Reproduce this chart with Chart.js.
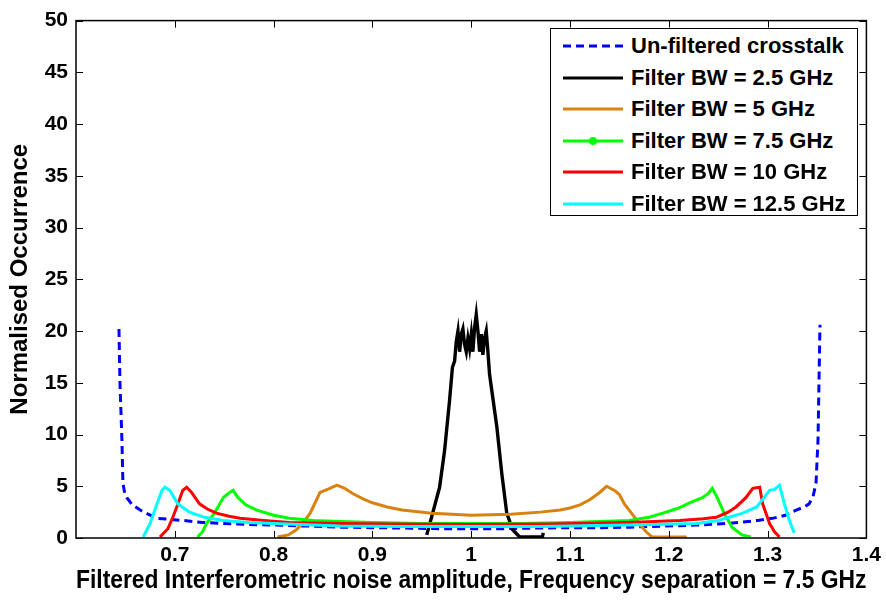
<!DOCTYPE html>
<html>
<head>
<meta charset="utf-8">
<script src="https://cdn.jsdelivr.net/npm/chart.js@4.4.0/dist/chart.umd.min.js"></script>
<style>
    body { margin: 0; background: #fff; }
    .wrap { position: relative; width: 886px; height: 600px; }
    .legend {
        position: absolute; left: 550px; top: 28px; width: 306px; height: 186px;
        border: 1.5px solid #000; background: #fff;
        font: bold 22px "Liberation Sans", Arial, sans-serif; color: #000;
    }
    .legend .row { position: absolute; left: 0; height: 30px; display: flex; align-items: center; white-space: nowrap; }
    .legend svg { margin-left: 12px; margin-right: 8px; }
</style>
</head>
<body>
<div class="wrap">
    <canvas id="chart"></canvas>
    <div class="legend" id="legend"></div>
</div>
<script>
// data
const seriesLabels = [
    "Un-filtered crosstalk",
    "Filter BW = 2.5 GHz",
    "Filter BW = 5 GHz",
    "Filter BW = 7.5 GHz",
    "Filter BW = 10 GHz",
    "Filter BW = 12.5 GHz",
];
const seriesColors = ["#0000ff", "#000000", "#d9820f", "#00ff00", "#ff0000", "#00ffff"];

const xUnfiltered = [0.6435, 0.6445, 0.6465, 0.6475, 0.649, 0.6515, 0.657, 0.665, 0.673, 0.682, 0.695, 0.708, 0.728, 0.749, 0.775, 0.80, 0.835, 0.867, 0.90, 0.94, 0.97, 1.0, 1.03, 1.06, 1.10, 1.13, 1.16, 1.195, 1.228, 1.25, 1.271, 1.29, 1.305, 1.318, 1.329, 1.337, 1.342, 1.346, 1.349, 1.351, 1.352, 1.353];
const yUnfiltered = [20.2, 15, 9.4, 5.3, 4.5, 3.9, 3.2, 2.7, 2.3, 1.9, 1.8, 1.7, 1.5, 1.4, 1.3, 1.25, 1.15, 1.05, 1.0, 0.95, 0.9, 0.9, 0.9, 0.95, 1.0, 1.0, 1.05, 1.15, 1.25, 1.35, 1.5, 1.7, 1.9, 2.2, 2.7, 3.0, 3.3, 4.0, 5.3, 9.4, 15, 20.6];

const xBw25 = [0.955, 0.961, 0.968, 0.973, 0.978, 0.981, 0.9832, 0.9849, 0.9866, 0.9883, 0.990, 0.9916, 0.9933, 0.995, 0.9967, 0.9984, 1.0001, 1.0017, 1.0034, 1.0051, 1.0068, 1.0085, 1.0102, 1.0118, 1.0135, 1.0152, 1.0169, 1.0186, 1.026, 1.031, 1.036, 1.042, 1.049, 1.072, 1.073];
const yBw25 = [0.3, 2.4, 4.9, 8.4, 13.2, 16.5, 17.1, 19.0, 20.0, 18.0, 19.7, 20.2, 18.7, 18.0, 19.3, 18.3, 19.7, 18.0, 20.3, 21.6, 20.0, 18.0, 19.7, 17.7, 19.3, 20.0, 18.0, 15.8, 10.7, 6.2, 2.4, 0.8, 0.1, 0.1, 0.5];

const xBw5 = [0.804, 0.815, 0.823, 0.83, 0.837, 0.843, 0.847, 0.852, 0.857, 0.864, 0.872, 0.88, 0.89, 0.90, 0.915, 0.93, 0.96, 1.0, 1.04, 1.07, 1.09, 1.10, 1.11, 1.12, 1.13, 1.137, 1.145, 1.15, 1.155, 1.163, 1.17, 1.177, 1.183, 1.20, 1.218];
const yBw5 = [0.1, 0.3, 0.8, 1.5, 2.4, 3.6, 4.4, 4.6, 4.8, 5.1, 4.8, 4.3, 3.8, 3.4, 3.0, 2.7, 2.4, 2.2, 2.3, 2.5, 2.7, 2.9, 3.2, 3.7, 4.4, 5.0, 4.6, 4.2, 3.3, 2.3, 1.4, 0.6, 0.1, 0.1, 0.1];

const xBw75 = [0.723, 0.728, 0.732, 0.737, 0.742, 0.749, 0.754, 0.759, 0.764, 0.772, 0.783, 0.80, 0.816, 0.84, 0.867, 0.90, 0.95, 1.0, 1.05, 1.10, 1.13, 1.16, 1.18, 1.194, 1.21, 1.221, 1.234, 1.24, 1.244, 1.249, 1.256, 1.264, 1.274, 1.283];
const yBw75 = [0.1, 0.6, 1.4, 2.0, 2.7, 3.9, 4.3, 4.6, 3.9, 3.2, 2.7, 2.2, 1.9, 1.7, 1.6, 1.5, 1.4, 1.4, 1.4, 1.5, 1.6, 1.7, 2.0, 2.4, 2.9, 3.4, 3.9, 4.3, 4.8, 3.9, 2.4, 1.05, 0.3, 0.1];

const xBw10 = [0.685, 0.693, 0.698, 0.702, 0.708, 0.712, 0.717, 0.725, 0.733, 0.742, 0.755, 0.766, 0.79, 0.816, 0.867, 0.92, 1.0, 1.08, 1.16, 1.211, 1.235, 1.248, 1.26, 1.268, 1.278, 1.285, 1.292, 1.295, 1.302, 1.307, 1.312];
const yBw10 = [0.1, 0.9, 2.0, 3.0, 4.6, 4.9, 4.4, 3.3, 2.8, 2.4, 2.1, 1.9, 1.7, 1.5, 1.4, 1.35, 1.3, 1.35, 1.5, 1.7, 1.85, 2.0, 2.5, 3.0, 3.9, 4.8, 4.9, 3.3, 1.4, 0.6, 0.1];

const xBw125 = [0.668, 0.675, 0.682, 0.687, 0.690, 0.695, 0.703, 0.715, 0.73, 0.749, 0.775, 0.80, 0.867, 0.93, 1.0, 1.07, 1.16, 1.228, 1.25, 1.261, 1.275, 1.289, 1.302, 1.307, 1.312, 1.317, 1.322, 1.327];
const yBw125 = [0.1, 1.4, 3.3, 4.6, 4.9, 4.6, 3.3, 2.5, 2.0, 1.7, 1.5, 1.4, 1.15, 1.1, 1.1, 1.1, 1.25, 1.4, 1.7, 2.0, 2.4, 3.0, 4.6, 4.7, 5.1, 3.3, 1.7, 0.5];

const xTickValues = [0.7, 0.8, 0.9, 1.0, 1.1, 1.2, 1.3, 1.4];
const yTickValues = [0, 5, 10, 15, 20, 25, 30, 35, 40, 45, 50];

const xSeries = [xUnfiltered, xBw25, xBw5, xBw75, xBw10, xBw125];
const ySeries = [yUnfiltered, yBw25, yBw5, yBw75, yBw10, yBw125];

const FONT = '"Liberation Sans", Arial, sans-serif';

const datasets = seriesLabels.map((label, i) => ({
    label: label,
    data: xSeries[i].map((x, j) => ({ x: x, y: ySeries[i][j] })),
    borderColor: seriesColors[i],
    borderWidth: i === 1 ? 3.4 : 3,
    borderDash: i === 0 ? [8, 5] : [],
    pointRadius: 0,
    tension: 0,
    fill: false,
    order: seriesLabels.length - i,
}));

// MATLAB style box with inward ticks
const boxPlugin = {
    id: "box",
    afterDraw(chart) {
        const { ctx, chartArea: a, scales } = chart;
        ctx.save();
        ctx.strokeStyle = "#000";
        ctx.lineWidth = 1.5;
        ctx.strokeRect(a.left, a.top, a.right - a.left, a.bottom - a.top);
        ctx.lineWidth = 1;
        ctx.beginPath();
        xTickValues.forEach((v) => {
            const px = Math.round(scales.x.getPixelForValue(v)) + 0.5;
            ctx.moveTo(px, a.bottom); ctx.lineTo(px, a.bottom - 7);
            ctx.moveTo(px, a.top); ctx.lineTo(px, a.top + 7);
        });
        yTickValues.forEach((v) => {
            const py = Math.round(scales.y.getPixelForValue(v)) + 0.5;
            ctx.moveTo(a.left, py); ctx.lineTo(a.left + 7, py);
            ctx.moveTo(a.right, py); ctx.lineTo(a.right - 7, py);
        });
        ctx.stroke();
        ctx.restore();
    },
};

new Chart(document.getElementById("chart"), {
    type: "line",
    data: { datasets: datasets },
    options: {
        responsive: true,
        maintainAspectRatio: false,
        animation: false,
        layout: { padding: { top: 16, right: 19, left: 0, bottom: 0 } },
        plugins: { legend: { display: false }, tooltip: { enabled: false } },
        scales: {
            x: {
                type: "linear",
                min: 0.6,
                max: 1.4,
                grid: { display: false, drawTicks: false },
                border: { display: false },
                afterBuildTicks: (s) => { s.ticks = xTickValues.map((v) => ({ value: v })); },
                afterFit: (s) => { s.height = 62; },
                ticks: {
                    color: "#000",
                    padding: 5,
                    maxRotation: 0,
                    font: { family: FONT, size: 21, weight: "bold" },
                    callback: (v) => String(Math.round(v * 10) / 10),
                },
                title: {
                    display: true,
                    text: "Filtered Interferometric noise amplitude, Frequency separation = 7.5 GHz",
                    color: "#000",
                    padding: { top: 0, bottom: 4 },
                    font: { family: FONT, size: 26, weight: "bold" },
                },
            },
            y: {
                min: 0,
                max: 50,
                grid: { display: false, drawTicks: false },
                border: { display: false },
                afterBuildTicks: (s) => { s.ticks = yTickValues.map((v) => ({ value: v })); },
                afterFit: (s) => { s.width = 76; },
                ticks: {
                    color: "#000",
                    padding: 8,
                    font: { family: FONT, size: 21, weight: "bold" },
                },
                title: {
                    display: true,
                    text: "Normalised Occurrence",
                    color: "#000",
                    padding: { top: 6, bottom: 0 },
                    font: { family: FONT, size: 24, weight: "bold" },
                },
            },
        },
    },
    plugins: [boxPlugin],
});

// legend (MATLAB style, boxed, top right)
const legend = document.getElementById("legend");
seriesLabels.forEach((label, i) => {
    const row = document.createElement("div");
    row.className = "row";
    row.style.top = (2 + i * 31.6) + "px";
    const dash = i === 0 ? ' stroke-dasharray="8 5"' : "";
    const dot = i === 3 ? `<circle cx="30" cy="5" r="4" fill="${seriesColors[i]}"/>` : "";
    row.innerHTML = `<svg width="60" height="10"><line x1="0" y1="5" x2="60" y2="5" stroke="${seriesColors[i]}" stroke-width="3"${dash}/>${dot}</svg><span>${label}</span>`;
    legend.appendChild(row);
});
</script>
</body>
</html>
